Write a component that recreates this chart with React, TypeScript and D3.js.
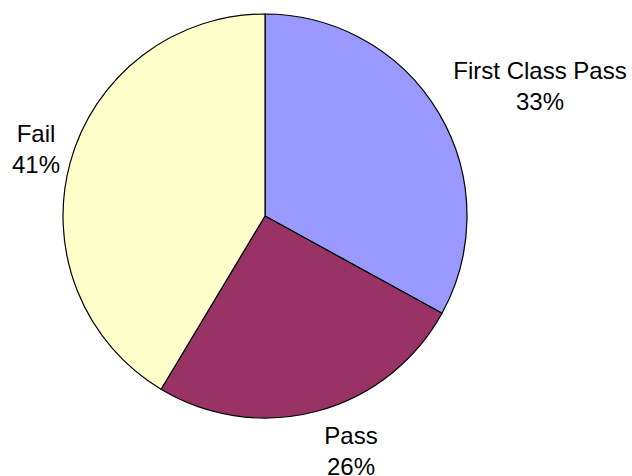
import React from "react";
import * as d3 from "d3";

const categories = ["First Class Pass", "Pass", "Fail"];
const values = [33, 25.6, 41.4];
const colors = ["#9999FF", "#993366", "#FFFFCC"];
const labelPos: [number, number][] = [
  [540, 79],
  [351, 444],
  [36, 142],
];

export default function App() {
  const W = 632, H = 476;
  const cx = 265, cy = 216, r = 202;
  const pie = d3.pie<number>().sort(null).value((d) => d)(values);
  const arc = d3.arc<d3.PieArcDatum<number>>().innerRadius(0).outerRadius(r);
  const total = d3.sum(values);
  return (
    <svg width={W} height={H} style={{ position: "absolute", left: 0, top: 0, background: "#fff" }}>
      <g transform={`translate(${cx},${cy})`}>
        {pie.map((p, i) => (
          <path key={i} d={arc(p) || ""} fill={colors[i]} stroke="#000" strokeWidth={1.2} />
        ))}
      </g>
      {categories.map((c, i) => (
        <text key={c} x={labelPos[i][0]} y={labelPos[i][1]} textAnchor="middle"
          fontFamily="Liberation Sans, Arial, sans-serif" fontSize={24} fill="#000">
          <tspan x={labelPos[i][0]}>{c}</tspan>
          <tspan x={labelPos[i][0]} dy={31}>{Math.round((values[i] / total) * 100)}%</tspan>
        </text>
      ))}
    </svg>
  );
}
